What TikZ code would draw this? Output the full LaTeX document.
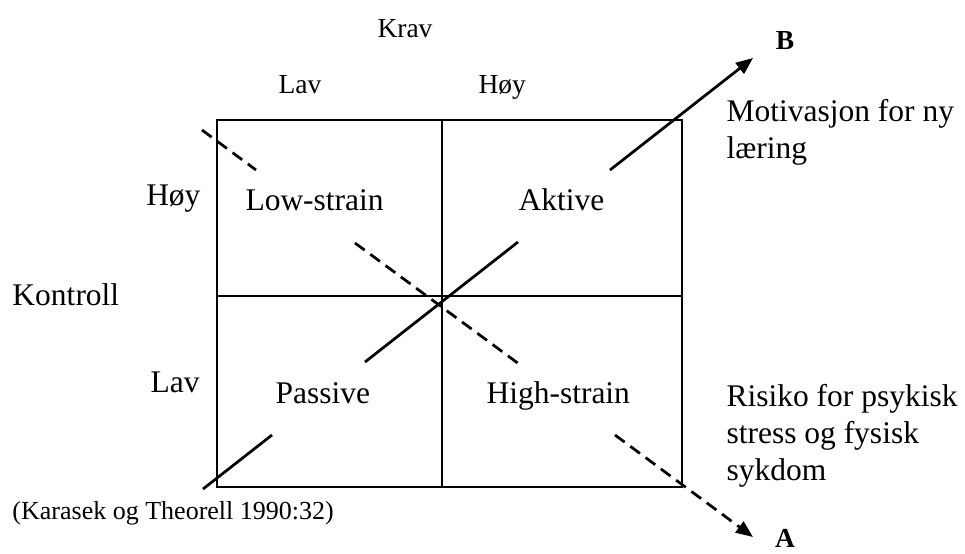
\documentclass[tikz,border=0pt]{standalone}
\usepackage{fontspec}
\setmainfont{Liberation Serif}
\usetikzlibrary{arrows.meta}
\tikzstyle{cellText}=[anchor=base west, inner sep=0pt, font=\fontsize{12.6}{14.8}\selectfont]
\tikzstyle{axisText}=[anchor=base west, inner sep=0pt, font=\fontsize{11}{13}\selectfont]
\tikzstyle{sideText}=[anchor=base east, inner sep=0pt, font=\fontsize{12.6}{14.8}\selectfont]
\tikzstyle{outcomeText}=[anchor=base west, inner sep=0pt, align=left, font=\fontsize{12.6}{14.8}\selectfont]
\tikzstyle{endLetter}=[anchor=base, inner sep=0pt, font=\fontsize{11}{13}\selectfont\bfseries]
\tikzstyle{sourceText}=[anchor=base west, inner sep=0pt, font=\fontsize{10.4}{12}\selectfont]
\tikzstyle{gridLine}=[line width=1.1pt]
\tikzstyle{activeLine}=[line width=1.1pt]
\tikzstyle{strainLine}=[line width=1.1pt, dash pattern=on 4.8pt off 2.8pt]

\begin{document}
\begin{tikzpicture}[x=0.4pt, y=-0.4pt]
\useasboundingbox (0,0) rectangle (965,553);
\coordinate (nw) at (217,120);
\coordinate (se) at (682,487);
\coordinate (topMid) at (442,120);
\coordinate (botMid) at (442,487);
\coordinate (leftMid) at (217,296);
\coordinate (rightMid) at (682,296);
\draw[gridLine] (nw) rectangle (se);
\draw[gridLine] (topMid) -- (botMid);
\draw[gridLine] (leftMid) -- (rightMid);
\node[axisText] (krav) at (377,37) {Krav};
\node[axisText] (kravLav) at (278,93) {Lav};
\node[axisText] (kravHoy) at (478,93) {Høy};
\node[sideText, anchor=base west] (kontroll) at (12,305) {Kontroll};
\node[sideText] (kontrollHoy) at (201,205) {Høy};
\node[sideText] (kontrollLav) at (200,392) {Lav};
\node[cellText] (lowStrain) at (245,210) {Low-strain};
\node[cellText] (aktive) at (518,210) {Aktive};
\node[cellText] (passive) at (275,403) {Passive};
\node[cellText] (highStrain) at (486,403) {High-strain};
\node[endLetter] (labelB) at (785,49) {B};
\node[endLetter] (labelA) at (785,547) {A};
\node[outcomeText] (motivasjon) at (726,158) {Motivasjon for ny\\læring};
\node[outcomeText] (risiko) at (726,480) {Risiko for psykisk\\stress og fysisk\\sykdom};
\node[sourceText] (kilde) at (12,519) {(Karasek og Theorell 1990:32)};
\coordinate (b0) at (203,489);
\coordinate (b1) at (272,435);
\coordinate (b2) at (365,362);
\coordinate (b3) at (518,242);
\coordinate (b4) at (610,170);
\coordinate (tipB) at (753,58);
\coordinate (a0) at (202,130);
\coordinate (a1) at (256,170);
\coordinate (a2) at (355,243);
\coordinate (a3) at (519,364);
\coordinate (a4) at (615,435);
\coordinate (tipA) at (753,537);
\draw[activeLine] (b0) -- (b1);
\draw[activeLine] (b2) -- (b3);
\draw[activeLine, -{Triangle[length=6.8pt, width=5.4pt]}] (b4) -- (tipB);
\draw[strainLine] (a0) -- (a1);
\draw[strainLine] (a2) -- (a3);
\draw[strainLine, -{Triangle[length=6.8pt, width=5.4pt]}] (a4) -- (tipA);
\end{tikzpicture}
\end{document}
